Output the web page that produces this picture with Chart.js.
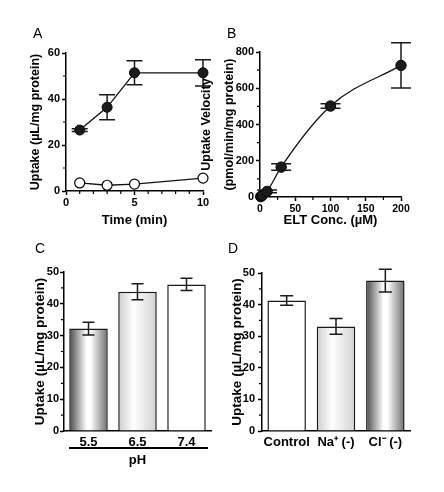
<!DOCTYPE html>
<html>
<head>
<meta charset="utf-8">
<script src="https://cdn.jsdelivr.net/npm/chart.js@4.4.0/dist/chart.umd.min.js"></script>
<style>
  body { margin: 0; background: #fff; }
  #wrap { position: relative; width: 444px; height: 492px; }
  canvas { position: absolute; }
  .lbl { position: absolute; font: 14px 'Liberation Sans', Arial, sans-serif; color: #000; line-height: 14px; }
</style>
</head>
<body>
<div id="wrap">
  <canvas id="chartA" width="222" height="230" style="left:0;top:0"></canvas>
  <canvas id="chartB" width="254" height="230" style="left:190px;top:0"></canvas>
  <canvas id="chartC" width="222" height="262" style="left:0;top:230px"></canvas>
  <canvas id="chartD" width="222" height="262" style="left:222px;top:230px"></canvas>
  <div class="lbl" style="left:33px;top:26px">A</div>
  <div class="lbl" style="left:227px;top:26px">B</div>
  <div class="lbl" style="left:35px;top:241px">C</div>
  <div class="lbl" style="left:228px;top:241px">D</div>
</div>
<script>
// panel A - uptake over time
const timeMin = [1, 3, 5, 10];
const uptakeFilled = [26.5, 36.4, 51.4, 51.4];
const uptakeFilledErr = [0.6, 5.4, 5.2, 5.7];
const uptakeOpen = [3.5, 2.5, 3.0, 5.6];

// panel B - concentration dependence
const eltConc = [1, 3, 10, 30, 100, 200];
const velocity = [2, 8, 31, 165, 502, 726];
const velocityErr = [0, 0, 8, 18, 12, 125];

// panel C - pH dependence
const phLabels = ['5.5', '6.5', '7.4'];
const phUptake = [32.2, 43.8, 46.1];
const phErr = [2.0, 2.5, 1.9];

// panel D - ion dependence
const ionLabels = ['Control', 'Na\u207A (-)', 'Cl\u207B (-)'];
const ionUptake = [41.3, 33.1, 47.6];
const ionErr = [1.5, 2.5, 3.6];

const FONT = "'Liberation Sans', Arial, sans-serif";
Chart.defaults.font.family = FONT;
Chart.defaults.color = '#000';

// draws the error bars over each point / bar
const errorBars = {
  id: 'errorBars',
  afterDatasetsDraw(chart, args, opts) {
    const ctx = chart.ctx;
    const ys = chart.scales.y;
    chart.data.datasets.forEach((ds, di) => {
      if (!ds.errors) return;
      const meta = chart.getDatasetMeta(di);
      meta.data.forEach((el, i) => {
        const err = ds.errors[i];
        if (!err) return;
        const v = ds.data[i];
        const value = typeof v === 'object' ? v.y : v;
        const x = el.x;
        const top = ys.getPixelForValue(value + err);
        const bot = ys.getPixelForValue(value - err);
        const cap = opts.cap || 6;
        ctx.save();
        ctx.strokeStyle = '#1a1a1a';
        ctx.lineWidth = 1.5;
        ctx.beginPath();
        ctx.moveTo(x, top); ctx.lineTo(x, bot);
        ctx.moveTo(x - cap, top); ctx.lineTo(x + cap, top);
        ctx.moveTo(x - cap, bot); ctx.lineTo(x + cap, bot);
        ctx.stroke();
        ctx.restore();
      });
    });
  }
};

// short unlabeled ticks between the major ones
const minorTicks = {
  id: 'minorTicks',
  afterDraw(chart, args, opts) {
    const ctx = chart.ctx;
    const area = chart.chartArea;
    ctx.save();
    ctx.strokeStyle = '#000';
    ctx.lineWidth = 1.2;
    ctx.beginPath();
    (opts.x || []).forEach(v => {
      const px = chart.scales.x.getPixelForValue(v);
      ctx.moveTo(px, area.bottom); ctx.lineTo(px, area.bottom + 3);
    });
    (opts.y || []).forEach(v => {
      const py = chart.scales.y.getPixelForValue(v);
      ctx.moveTo(area.left, py); ctx.lineTo(area.left - 3, py);
    });
    ctx.stroke();
    if (opts.underline) {
      const u = opts.underline;
      ctx.lineWidth = 2;
      ctx.beginPath();
      ctx.moveTo(u.x1, u.y); ctx.lineTo(u.x2, u.y);
      ctx.stroke();
    }
    ctx.restore();
  }
};

function axisGrid(ticks) {
  return {
    display: true,
    drawOnChartArea: false,
    drawTicks: ticks,
    tickLength: 4,
    tickColor: '#000',
    tickWidth: 1.5,
    color: '#000'
  };
}
const border = { color: '#000', width: 1.5 };
const tickFont = { size: 11, weight: 'bold' };

// gradient fills of the bars
const fills = {
  dark: [[0, '#4a4a4a'], [0.45, '#ffffff'], [0.55, '#ffffff'], [1, '#6e6e6e']],
  light: [[0, '#cdcdcd'], [0.4, '#ffffff'], [1, '#d2d2d2']],
  white: [[0, '#ffffff'], [1, '#ffffff']]
};
function barFill(kinds, pct) {
  return function(context) {
    const chart = context.chart;
    if (!chart.chartArea) return '#fff';
    const xs = chart.scales.x;
    const n = chart.data.labels.length;
    const cx = xs.getPixelForValue(context.dataIndex);
    const w = xs.width / n * pct;
    const g = chart.ctx.createLinearGradient(cx - w / 2, 0, cx + w / 2, 0);
    fills[kinds[context.dataIndex]].forEach(s => g.addColorStop(s[0], s[1]));
    return g;
  };
}

// A
new Chart(document.getElementById('chartA'), {
  type: 'line',
  data: {
    datasets: [{
      data: timeMin.map((t, i) => ({ x: t, y: uptakeFilled[i] })),
      errors: uptakeFilledErr,
      borderColor: '#111',
      borderWidth: 1.3,
      pointRadius: 5,
      pointBackgroundColor: '#1c1c1c',
      pointBorderColor: '#000',
      pointBorderWidth: 1,
      clip: false
    }, {
      data: timeMin.map((t, i) => ({ x: t, y: uptakeOpen[i] })),
      borderColor: '#111',
      borderWidth: 1.3,
      pointRadius: 5,
      pointBackgroundColor: '#fff',
      pointBorderColor: '#000',
      pointBorderWidth: 1.2,
      clip: false
    }]
  },
  options: {
    responsive: false,
    animation: false,
    layout: { padding: { left: 0, top: 53, right: 19, bottom: 0 } },
    plugins: {
      legend: { display: false },
      tooltip: { enabled: false },
      errorBars: { cap: 8 },
      minorTicks: { x: [1, 2, 3, 4, 6, 7, 8, 9], y: [10, 30, 50] }
    },
    scales: {
      x: {
        type: 'linear', min: 0, max: 10,
        ticks: { stepSize: 5, font: tickFont, padding: 1 },
        grid: axisGrid(true), border: border,
        title: { display: true, text: 'Time (min)', font: { size: 13, weight: 'bold' }, padding: { bottom: 2, top: 0 } },
        afterFit(scale) { scale.height = 39; }
      },
      y: {
        min: 0, max: 60,
        ticks: { stepSize: 20, font: tickFont, padding: 2 },
        grid: axisGrid(true), border: border,
        title: { display: true, text: 'Uptake (\u00B5L/mg protein)', font: { size: 12.5, weight: 'bold' }, padding: { top: 28.5, bottom: 0 } },
        afterFit(scale) { scale.width = 66; }
      }
    }
  },
  plugins: [errorBars, minorTicks]
});

// B
new Chart(document.getElementById('chartB'), {
  type: 'line',
  data: {
    datasets: [{
      data: eltConc.map((c, i) => ({ x: c, y: velocity[i] })),
      errors: velocityErr,
      borderColor: '#111',
      borderWidth: 1.3,
      tension: 0.4,
      cubicInterpolationMode: 'monotone',
      pointRadius: 5.2,
      pointBackgroundColor: '#1c1c1c',
      pointBorderColor: '#000',
      pointBorderWidth: 1,
      clip: false
    }]
  },
  options: {
    responsive: false,
    animation: false,
    layout: { padding: { left: 0, top: 52, right: 43, bottom: 0 } },
    plugins: {
      legend: { display: false },
      tooltip: { enabled: false },
      errorBars: { cap: 10 },
      minorTicks: { x: [25, 75, 125, 175], y: [100, 300, 500, 700] }
    },
    scales: {
      x: {
        type: 'linear', min: 0, max: 200,
        ticks: { stepSize: 50, font: { size: 10.5, weight: 'bold' }, padding: 2 },
        grid: axisGrid(true), border: border,
        title: { display: true, text: 'ELT Conc. (\u00B5M)', font: { size: 13, weight: 'bold' }, padding: { bottom: 1.5, top: 0 } },
        afterFit(scale) { scale.height = 33; }
      },
      y: {
        min: 0, max: 800,
        ticks: { stepSize: 200, font: tickFont, padding: 2 },
        grid: axisGrid(true), border: border,
        title: { display: true, text: ['Uptake Velocity', '(pmol/min/mg protein)'], font: { size: 12.5, weight: 'bold', lineHeight: 1.84 }, padding: { top: 5.5, bottom: 0 } },
        afterFit(scale) { scale.width = 70; }
      }
    }
  },
  plugins: [errorBars, minorTicks]
});

// C
new Chart(document.getElementById('chartC'), {
  type: 'bar',
  data: {
    labels: phLabels,
    datasets: [{
      data: phUptake,
      errors: phErr,
      backgroundColor: barFill(['dark', 'light', 'white'], 0.786),
      borderColor: '#1a1a1a',
      borderWidth: 1.5,
      barPercentage: 0.786,
      categoryPercentage: 1
    }]
  },
  options: {
    responsive: false,
    animation: false,
    layout: { padding: { left: 0, top: 42, right: 11, bottom: 0 } },
    plugins: {
      legend: { display: false },
      tooltip: { enabled: false },
      errorBars: { cap: 6 },
      minorTicks: { y: [5, 15, 25, 35, 45], underline: { x1: 69, x2: 208, y: 218 } }
    },
    scales: {
      x: {
        ticks: { font: { size: 13, weight: 'bold' }, padding: 4, maxRotation: 0, minRotation: 0, autoSkip: false },
        grid: { display: false, drawTicks: false }, border: border,
        title: { display: true, text: 'pH', font: { size: 13, weight: 'bold' }, padding: { bottom: 24, top: 0 } },
        afterFit(scale) { scale.height = 61; }
      },
      y: {
        min: 0, max: 50,
        ticks: { stepSize: 10, font: tickFont, padding: 1 },
        grid: axisGrid(true), border: border,
        title: { display: true, text: 'Uptake (\u00B5L/mg protein)', font: { size: 13.5, weight: 'bold' }, padding: { top: 32, bottom: 0 } },
        afterFit(scale) { scale.width = 64; }
      }
    }
  },
  plugins: [errorBars, minorTicks]
});

// D
new Chart(document.getElementById('chartD'), {
  type: 'bar',
  data: {
    labels: ionLabels,
    datasets: [{
      data: ionUptake,
      errors: ionErr,
      backgroundColor: barFill(['white', 'light', 'dark'], 0.78),
      borderColor: '#1a1a1a',
      borderWidth: 1.5,
      barPercentage: 0.78,
      categoryPercentage: 1
    }]
  },
  options: {
    responsive: false,
    animation: false,
    layout: { padding: { left: 0, top: 43, right: 34, bottom: 0 } },
    plugins: {
      legend: { display: false },
      tooltip: { enabled: false },
      errorBars: { cap: 6.5 },
      minorTicks: { y: [5, 15, 25, 35, 45] }
    },
    scales: {
      x: {
        ticks: { font: { size: 13, weight: 'bold' }, padding: 4, maxRotation: 0, minRotation: 0, autoSkip: false },
        grid: { display: false, drawTicks: false }, border: border,
        afterFit(scale) { scale.height = 61; }
      },
      y: {
        min: 0, max: 50,
        ticks: { stepSize: 10, font: tickFont, padding: 3 },
        grid: axisGrid(true), border: border,
        title: { display: true, text: 'Uptake (\u00B5L/mg protein)', font: { size: 13.5, weight: 'bold' }, padding: { top: 7, bottom: 0 } },
        afterFit(scale) { scale.width = 40; }
      }
    }
  },
  plugins: [errorBars, minorTicks]
});
</script>
</body>
</html>
